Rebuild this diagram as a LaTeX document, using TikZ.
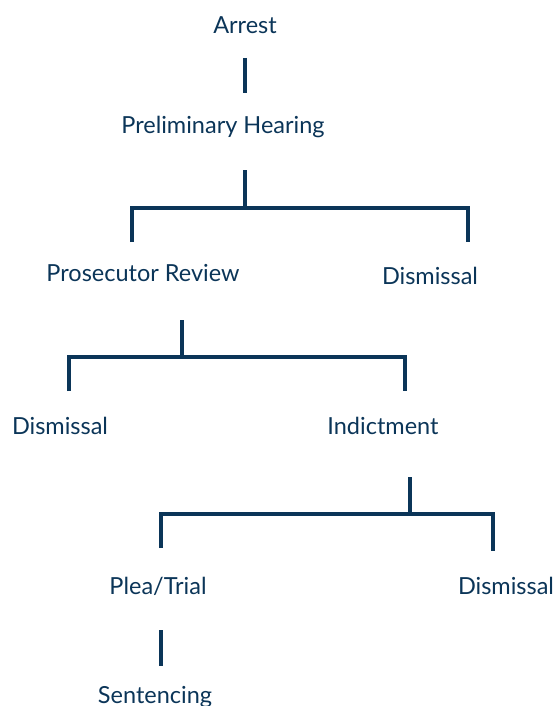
\documentclass[tikz,border=0pt]{standalone}
\usepackage{fontspec}
\setmainfont{Lato}
\usepackage{tikz}

\definecolor{navy}{HTML}{0B3558}

\begin{document}
\begin{tikzpicture}[x=1pt, y=-1pt, line width=3.2pt, navy,
    stage/.style={text=navy, font=\fontsize{23.5}{28}\selectfont, inner sep=0pt}]
      \useasboundingbox (0, 0) rectangle (557, 706);
      % stages
      \node[stage] (arrest) at (245, 25) {Arrest};
      \node[stage] (hearing) at (223, 127) {Preliminary Hearing};
      \node[stage] (review) at (143, 273) {Prosecutor Review};
      \node[stage] (dismiss1) at (430, 276) {Dismissal};
      \node[stage] (dismiss2) at (60, 426) {Dismissal};
      \node[stage] (indict) at (383, 426) {Indictment};
      \node[stage] (plea) at (158, 586) {Plea/Trial};
      \node[stage] (dismiss3) at (506, 586) {Dismissal};
      \node[stage] (sentence) at (155, 697) {Sentencing};
      % bracket points
      \coordinate (a1) at (245, 58);   \coordinate (a2) at (245, 93);
      \coordinate (h1) at (245, 170);  \coordinate (h2) at (245, 208);
      \coordinate (hl) at (132, 208);  \coordinate (hr) at (468, 208);
      \coordinate (hl2) at (132, 242); \coordinate (hr2) at (468, 242);
      \coordinate (r1) at (182, 320);  \coordinate (r2) at (182, 357);
      \coordinate (rl) at (69, 357);   \coordinate (rr) at (405, 357);
      \coordinate (rl2) at (69, 391);  \coordinate (rr2) at (405, 391);
      \coordinate (i1) at (410, 477);  \coordinate (i2) at (410, 514);
      \coordinate (il) at (161, 514);  \coordinate (ir) at (493, 514);
      \coordinate (il2) at (161, 548); \coordinate (ir2) at (493, 551);
      \coordinate (p1) at (161, 630);  \coordinate (p2) at (161, 666);
      % connectors
      \draw (a1) -- (a2);
      \draw (h1) -- (h2);
      \draw (hl2) -- (hl) -- (hr) -- (hr2);
      \draw (r1) -- (r2);
      \draw (rl2) -- (rl) -- (rr) -- (rr2);
      \draw (i1) -- (i2);
      \draw (il2) -- (il) -- (ir) -- (ir2);
      \draw (p1) -- (p2);
    \end{tikzpicture}
\end{document}
